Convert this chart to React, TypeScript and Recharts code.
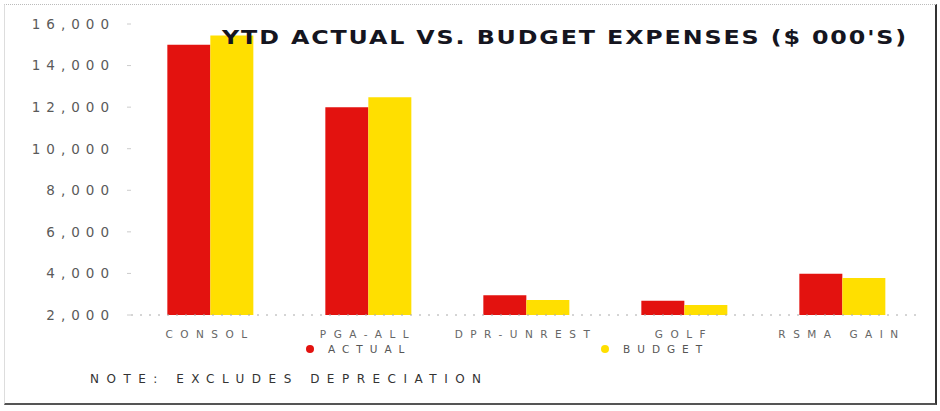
import React from 'react';
import { BarChart, Bar, XAxis, YAxis, Legend } from 'recharts';

const categories = ['CONSOL', 'PGA-ALL', 'DPR-UNREST', 'GOLF', 'RSMA GAIN'];
const actualValues = [15000, 12000, 2950, 2680, 3980];
const budgetValues = [15450, 12480, 2720, 2480, 3780];
const yTicks = [2000, 4000, 6000, 8000, 10000, 12000, 14000, 16000];

const data = categories.map((c, i) => ({ name: c, actual: actualValues[i], budget: budgetValues[i] }));

const RED = '#e3120f';
const YELLOW = '#ffdf00';

const renderLegend = (props: any) => {
  const { payload } = props;
  const offsets = [306, 601];
  return (
    <div style={{ position: 'relative', width: 940, height: 18 }}>
      {payload.map((p: any, i: number) => (
        <div key={p.value} style={{ position: 'absolute', left: offsets[i], top: 0, display: 'flex', alignItems: 'center' }}>
          <span style={{ display: 'inline-block', width: 8, height: 8, borderRadius: 4, background: p.color, marginRight: 14 }} />
          <span style={{ fontFamily: 'DejaVu Sans', fontSize: 10.5, letterSpacing: 7, color: '#555' }}>{p.value}</span>
        </div>
      ))}
    </div>
  );
};

export default function App() {
  return (
    <div style={{ position: 'absolute', left: 0, top: 0, width: 940, height: 411, background: '#fff', overflow: 'hidden' }}>
      <div style={{ position: 'absolute', left: 4, top: 4, width: 930, height: 398, borderTop: '1px dotted #bbb', borderLeft: '1px solid #ddd', borderRight: '2px solid #333', borderBottom: '2px solid #555' }} />
      <BarChart width={940} height={411} data={data} margin={{ top: 24, right: 19, bottom: 56, left: 0 }} barCategoryGap="23%" barGap={0}>
        <YAxis
          width={131}
          domain={[2000, 16000]}
          ticks={yTicks}
          tickFormatter={(v: number) => v.toLocaleString('en-US')}
          axisLine={false}
          tickLine={{ stroke: '#ccc' }}
          tickSize={4}
          tickMargin={12}
          tick={{ fontFamily: 'DejaVu Sans', fontSize: 13.5, fill: '#5a5a5a', letterSpacing: 6 }}
        />
        <XAxis
          dataKey="name"
          height={22}
          axisLine={{ stroke: '#aaa', strokeDasharray: '2 7' }}
          tickLine={false}
          tickMargin={10}
          tick={{ fontFamily: 'DejaVu Sans', fontSize: 10.5, fill: '#666', letterSpacing: 7.5 }}
        />
        <Legend verticalAlign="bottom" content={renderLegend} wrapperStyle={{ top: 343, bottom: 'auto' }} />
        <Bar dataKey="actual" name="ACTUAL" fill={RED} isAnimationActive={false} />
        <Bar dataKey="budget" name="BUDGET" fill={YELLOW} isAnimationActive={false} />
      </BarChart>
      <div style={{ position: 'absolute', left: 222, top: 26, fontFamily: 'DejaVu Sans', fontWeight: 'bold', fontSize: 19, letterSpacing: 1.5, color: '#151520', whiteSpace: 'nowrap', pointerEvents: 'none', transform: 'scaleX(1.25)', transformOrigin: 'left top' }}>
        YTD ACTUAL VS. BUDGET EXPENSES ($ 000'S)
      </div>
      <div style={{ position: 'absolute', left: 90, top: 372, fontFamily: 'DejaVu Sans', fontSize: 12, letterSpacing: 7.5, color: '#333', whiteSpace: 'nowrap' }}>
        NOTE: EXCLUDES DEPRECIATION
      </div>
    </div>
  );
}
